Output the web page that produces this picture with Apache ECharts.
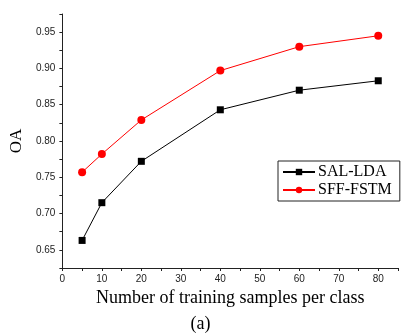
<!DOCTYPE html>
<html>
<head>
<meta charset="utf-8">
<script src="https://cdn.jsdelivr.net/npm/echarts@6/dist/echarts.min.js"></script>
<style>
  html, body { margin: 0; padding: 0; background: #fff; }
  #chart { width: 401px; height: 335px; }
</style>
</head>
<body>
<div id="chart"></div>
<script>
	var samples = [5, 10, 20, 40, 60, 80];
	var salLda = [0.663, 0.715, 0.772, 0.843, 0.870, 0.883];
	var sffFstm = [0.757, 0.782, 0.829, 0.897, 0.930, 0.945];
	var seriesNames = ['SAL-LDA', 'SFF-FSTM'];

	function pairs(xs, ys) {
		var out = [];
		for (var i = 0; i < xs.length; i++) {
			out.push([xs[i], ys[i]]);
		}
		return out;
	}

	var myChart = echarts.init(document.getElementById('chart'));
	myChart.setOption({
		animation: false,
		backgroundColor: '#fff',
		title: {
			text: '(a)',
			left: 'center',
			top: 315,
			padding: 0,
			textStyle: {
				fontFamily: 'Liberation Serif',
				fontWeight: 'normal',
				fontSize: 18,
				color: '#000'
			}
		},
		grid: {
			left: 61,
			top: 14,
			width: 341,
			height: 254
		},
		legend: {
			orient: 'vertical',
			left: 278,
			top: 161,
			backgroundColor: '#fff',
			borderColor: '#222',
			borderWidth: 1,
			padding: [3, 8, 3, 4],
			itemGap: 2,
			itemWidth: 32,
			itemHeight: 8,
			data: seriesNames,
			textStyle: {
				fontFamily: 'Liberation Serif',
				fontSize: 16,
				lineHeight: 16,
				color: '#000',
				padding: [0, 0, 0, -2]
			}
		},
		xAxis: {
			type: 'value',
			min: 0,
			max: 85,
			interval: 5,
			name: 'Number of training samples per class',
			nameLocation: 'middle',
			nameGap: 18,
			nameTextStyle: {
				fontFamily: 'Liberation Serif',
				fontSize: 18,
				color: '#000'
			},
			splitLine: { show: false },
			axisLine: { lineStyle: { color: '#222', width: 1 } },
			axisTick: { length: 3, lineStyle: { color: '#222' } },
			axisLabel: {
				margin: 6,
				fontFamily: 'Liberation Sans',
				fontSize: 10,
				color: '#222',
				formatter: function (v) {
					return Math.round(v) % 10 === 0 ? String(Math.round(v)) : '';
				}
			}
		},
		yAxis: {
			type: 'value',
			min: 0.625,
			max: 0.975,
			interval: 0.025,
			name: 'OA',
			nameLocation: 'middle',
			nameGap: 34,
			nameTextStyle: {
				fontFamily: 'Liberation Serif',
				fontSize: 17,
				color: '#000'
			},
			splitLine: { show: false },
			axisLine: { show: true, lineStyle: { color: '#222', width: 1 } },
			axisTick: { length: 3, lineStyle: { color: '#222' } },
			axisLabel: {
				margin: 7,
				fontFamily: 'Liberation Sans',
				fontSize: 10,
				color: '#222',
				formatter: function (v) {
					var k = Math.round(v * 1000);
					return k % 50 === 0 ? (k / 1000).toFixed(2) : '';
				}
			}
		},
		series: [
			{
				name: seriesNames[0],
				type: 'line',
				data: pairs(samples, salLda),
				symbol: 'rect',
				symbolSize: 7,
				lineStyle: { color: '#000', width: 1 },
				itemStyle: { color: '#000' }
			},
			{
				name: seriesNames[1],
				type: 'line',
				data: pairs(samples, sffFstm),
				symbol: 'circle',
				symbolSize: 8,
				lineStyle: { color: '#ff0000', width: 1 },
				itemStyle: { color: '#ff0000' }
			}
		]
	});
</script>
</body>
</html>
